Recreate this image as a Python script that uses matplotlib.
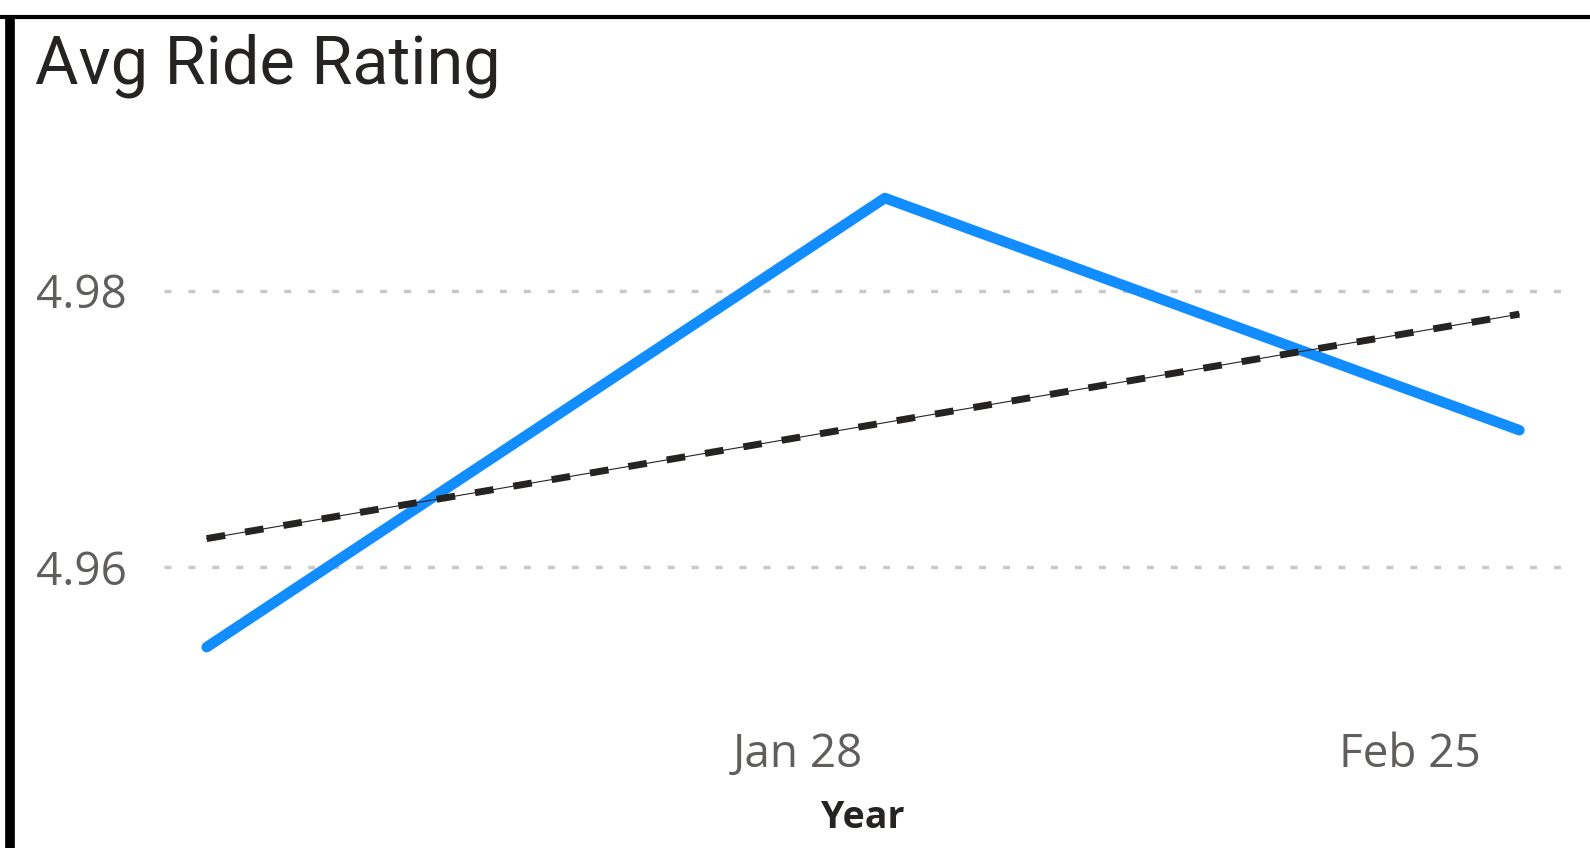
import matplotlib
matplotlib.use("Agg")
import matplotlib.pyplot as plt
import matplotlib.dates as mdates
import numpy as np
import datetime as dt

# monthly averages
months = ["2024-01-01", "2024-02-01", "2024-03-01"]
avg_rating = [4.9542, 4.9867, 4.9699]
y_ticks = [4.96, 4.98]
x_ticks = ["2024-01-28", "2024-02-25"]
x_tick_labels = ["Jan 28", "Feb 25"]

dates = [dt.datetime.strptime(d, "%Y-%m-%d") for d in months]
x_num = mdates.date2num(dates)

# linear trend line, the way Power BI draws it
slope, intercept = np.polyfit(x_num, avg_rating, 1)
trend = slope * x_num + intercept

fig = plt.figure(figsize=(15.9, 8.48), dpi=100)
ax = fig.add_axes([164 / 1590, 1 - 690 / 848, (1562 - 164) / 1590, (690 - 140) / 848])

ax.plot(dates, avg_rating, color="#118DFF", lw=7.6, solid_capstyle="round",
        solid_joinstyle="round", zorder=3)
ax.plot(dates, trend, color="#252423", lw=0.8, zorder=4)
ax.plot(dates, trend, color="#252423", lw=5, linestyle=(0, (2.7, 2.9)),
        dash_capstyle="butt", zorder=4)

pad = dt.timedelta(days=1.95)
ax.set_xlim(dates[0] - pad, dates[-1] + pad)
ax.set_ylim(4.9511, 4.9909)

ax.set_yticks(y_ticks)
ax.set_yticklabels([f"{v:.2f}" for v in y_ticks])
ax.set_xticks([dt.datetime.strptime(d, "%Y-%m-%d") for d in x_ticks])
ax.set_xticklabels(x_tick_labels)

for lbl in ax.get_yticklabels() + ax.get_xticklabels():
    lbl.set_family("Open Sans")
    lbl.set_fontsize(33)
    lbl.set_color("#605E5C")
ax.tick_params(axis="both", length=0)
ax.tick_params(axis="y", pad=26.5)
ax.tick_params(axis="x", pad=30)

ax.grid(axis="y", color="#C8C8C8", lw=2.5, linestyle=(0, (2, 4.9)))
ax.grid(axis="x", visible=False)
for s in ax.spines.values():
    s.set_visible(False)

ax.set_xlabel("Year", family="Open Sans", fontsize=27, fontweight="bold",
              color="#252423", labelpad=15)

fig.text(35 / 1590, 1 - 83 / 848, "Avg Ride Rating", family="Roboto", fontsize=48,
         color="#252423", va="baseline", ha="left")

# black frame edges at top and left
fig.add_artist(plt.Line2D([0, 1], [1 - 16.5 / 848] * 2, color="black", lw=3,
                          solid_capstyle="butt", transform=fig.transFigure))
fig.add_artist(plt.Line2D([10 / 1590] * 2, [0, 1 - 16.5 / 848], color="black", lw=7,
                          solid_capstyle="butt", transform=fig.transFigure))

fig.savefig("out.png", dpi=100, facecolor="white")
